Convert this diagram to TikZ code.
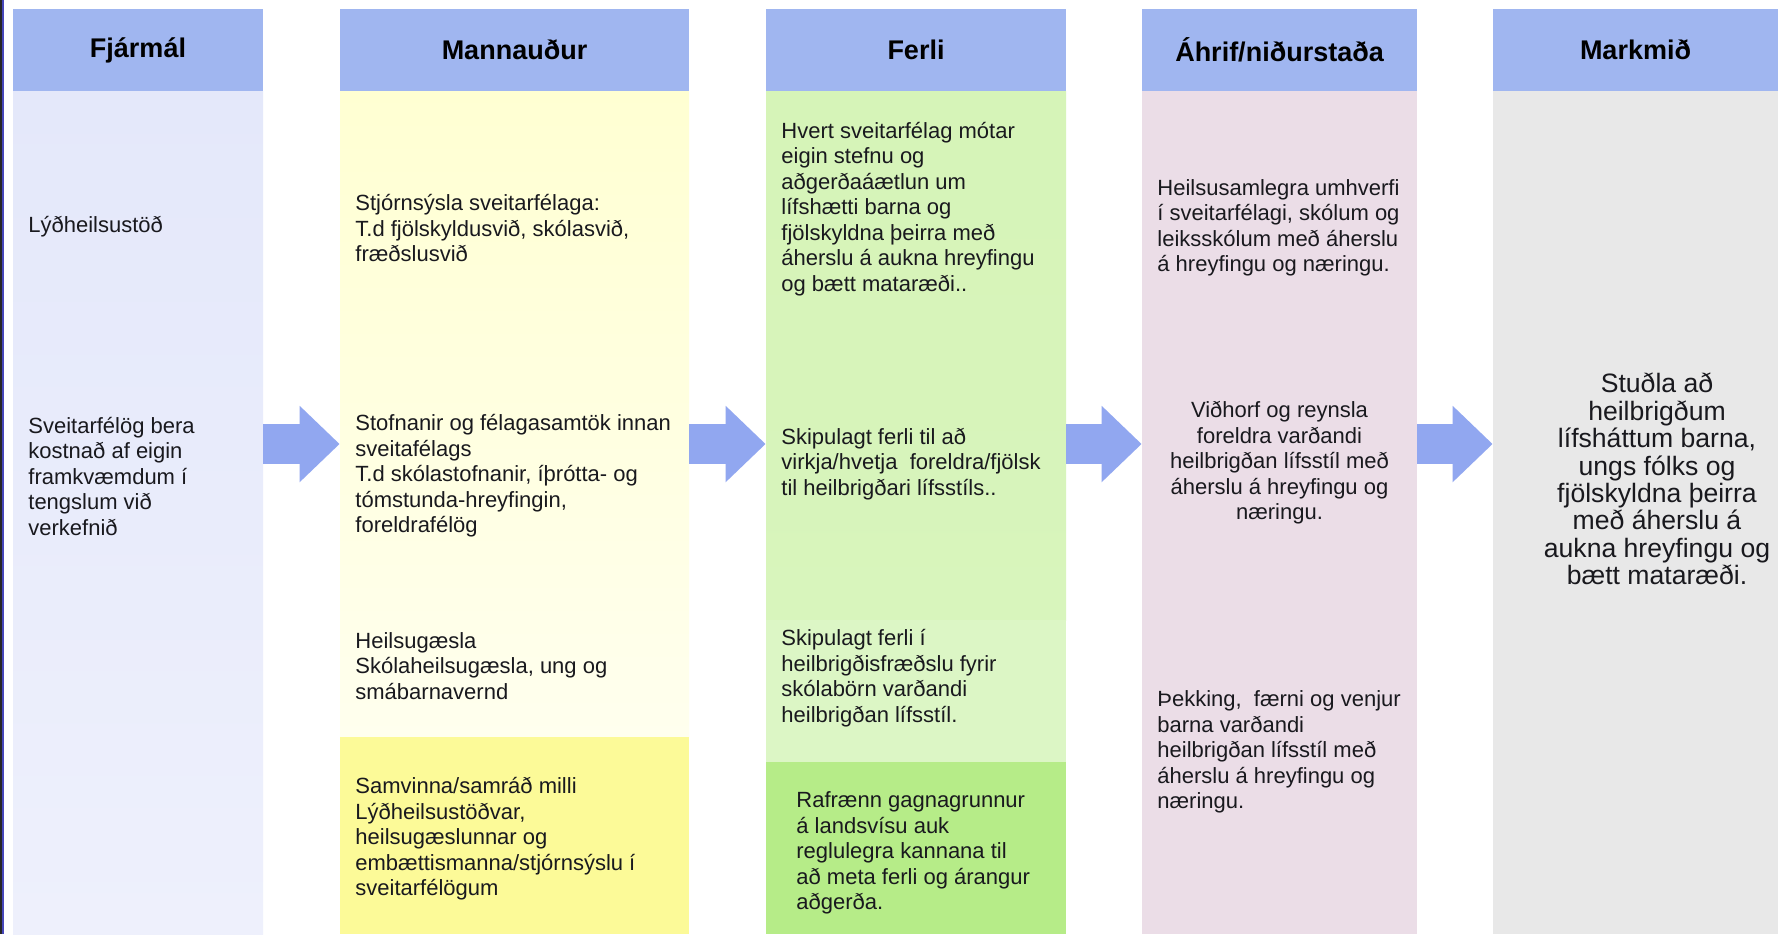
\documentclass[tikz,border=0pt]{standalone}
\usepackage{fontspec}
\setmainfont{Liberation Sans}
\usepackage{tikz}
\usetikzlibrary{positioning, arrows.meta}
\usepackage{xcolor}

\definecolor{headblue}{RGB}{160,182,240}
\definecolor{arrowblue}{RGB}{145,167,240}
\definecolor{finbg}{RGB}{228,232,250}
\definecolor{finbgb}{RGB}{238,240,252}
\definecolor{mannbg}{RGB}{255,255,210}
\definecolor{mannbgb}{RGB}{255,255,238}
\definecolor{mannbox}{RGB}{252,250,152}
\definecolor{ferlbg}{RGB}{214,244,184}
\definecolor{ferlmid}{RGB}{220,246,197}
\definecolor{ferlbox}{RGB}{182,236,136}
\definecolor{ahrbg}{RGB}{235,221,231}
\definecolor{markbg}{RGB}{232,232,232}
\definecolor{txtcol}{RGB}{25,25,30}

\begin{document}
\begin{tikzpicture}[x=0.5pt, y=-0.5pt, >=Latex,
    head/.style={fill=headblue, minimum height=41pt, inner sep=0pt,
        font=\bfseries\fontsize{13.5}{15}\selectfont},
    body/.style={inner sep=0pt, minimum height=421.5pt},
    txt/.style={anchor=west, align=left, inner sep=0pt, text=txtcol,
        font=\fontsize{11}{12.75}\selectfont},
    flow/.style={draw=arrowblue, line width=20pt,
        -{Triangle[length=20pt, width=37pt]}}]
    \useasboundingbox (0,0) rectangle (1778,934);
    \fill[white] (0,0) rectangle (1778,934);

    %columns
    \node (fin) [body, minimum width=125pt, top color=finbg, bottom color=finbgb] at (138,512.5) {};
    \node (mann) [body, minimum width=174.5pt, minimum height=323pt, top color=mannbg, bottom color=mannbgb] at (514.5,414) {};
    \node (mannbot) [inner sep=0pt, minimum width=174.5pt, minimum height=98.5pt, fill=mannbox] at (514.5,835.5) {};
    \node (ferl) [inner sep=0pt, minimum width=150pt, minimum height=264.5pt, top color=ferlbg, bottom color=ferlbg!70!ferlmid] at (916,355.5) {};
    \node (ferlmid) [inner sep=0pt, minimum width=150pt, minimum height=71pt, fill=ferlmid] at (916,691) {};
    \node (ferlbot) [inner sep=0pt, minimum width=150pt, minimum height=86pt, fill=ferlbox] at (916,848) {};
    \node (ahr) [body, minimum width=137.5pt, fill=ahrbg] at (1279.5,512.5) {};
    \node (mark) [body, minimum width=142.5pt, fill=markbg] at (1635.5,512.5) {};

    %headers
    \node (hfin) [head, minimum width=125pt] at (138,50) {Fjármál};
    \node (hmann) [head, minimum width=174.5pt] at (514.5,50) {Mannauður};
    \node (hferl) [head, minimum width=150pt] at (916,50) {Ferli};
    \node (hahr) [head, minimum width=137.5pt] at (1279.5,50) {Áhrif/niðurstaða};
    \node (hmark) [head, minimum width=142.5pt] at (1635.5,50) {Markmið};

    %texts
    \node (lydh) [txt] at (28,227) {Lýðheilsustöð};
    \node (sveit) [txt] at (28,476) {Sveitarfélög bera\\kostnað af eigin\\framkvæmdum í\\tengslum við\\verkefnið};

    \node (stjorn) [txt] at (355,228) {Stjórnsýsla sveitarfélaga:\\T.d fjölskyldusvið, skólasvið,\\fræðslusvið};
    \node (stofn) [txt] at (355,476) {Stofnanir og félagasamtök innan\\sveitafélags\\T.d skólastofnanir, íþrótta- og\\tómstunda-hreyfingin,\\foreldrafélög};
    \node (heilsug) [txt] at (355,666) {Heilsugæsla\\Skólaheilsugæsla, ung og\\smábarnavernd};
    \node (samv) [txt] at (355,839) {Samvinna/samráð milli\\Lýðheilsustöðvar,\\heilsugæslunnar og\\embættismanna/stjórnsýslu í\\sveitarfélögum};

    \node (hvert) [txt] at (781,209) {Hvert sveitarfélag mótar\\eigin stefnu og\\aðgerðaáætlun um\\lífshætti barna og\\fjölskyldna þeirra með\\áherslu á aukna hreyfingu\\og bætt mataræði..};
    \node (skipa) [txt] at (781,464) {Skipulagt ferli til að\\virkja/hvetja\ \ foreldra/fjölsk\\til heilbrigðari lífsstíls..};
    \node (skipb) [txt] at (781,678) {Skipulagt ferli í\\heilbrigðisfræðslu fyrir\\skólabörn varðandi\\heilbrigðan lífsstíl.};
    \node (rafr) [txt] at (796,853) {Rafrænn gagnagrunnur\\á landsvísu auk\\reglulegra kannana til\\að meta ferli og árangur\\aðgerða.};

    \node (umhv) [txt] at (1157,228) {Heilsusamlegra umhverfi\\í sveitarfélagi, skólum og\\leiksskólum með áherslu\\á hreyfingu og næringu.};
    \node (vidh) [txt, anchor=center, align=center] at (1279.5,463) {Viðhorf og reynsla\\foreldra varðandi\\heilbrigðan lífsstíl með\\áherslu á hreyfingu og\\næringu.};
    \node (thekk) [txt] at (1157,752) {Þekking,\ \ færni og venjur\\barna varðandi\\heilbrigðan lífsstíl með\\áherslu á hreyfingu og\\næringu.};

    \node (markm) [align=center, inner sep=0pt, text=txtcol, font=\fontsize{13.3}{13.7}\selectfont] at (1657,479) {Stuðla að\\heilbrigðum\\lífsháttum barna,\\ungs fólks og\\fjölskyldna þeirra\\með áherslu á\\aukna hreyfingu og\\bætt mataræði.};

    %arrows
    \draw[flow] (fin.east |- 0,444) -- (mann.west |- 0,444);
    \draw[flow] (mann.east |- 0,444) -- (ferl.west |- 0,444);
    \draw[flow] (ferl.east |- 0,444) -- (ahr.west |- 0,444);
    \draw[flow] (ahr.east |- 0,444) -- (mark.west |- 0,444);

    %left edge
    \draw[line width=1pt, black!85] (1,0) -- (1,934);
    \draw[line width=1pt, blue!45!gray] (3,0) -- (3,934);
\end{tikzpicture}
\end{document}
